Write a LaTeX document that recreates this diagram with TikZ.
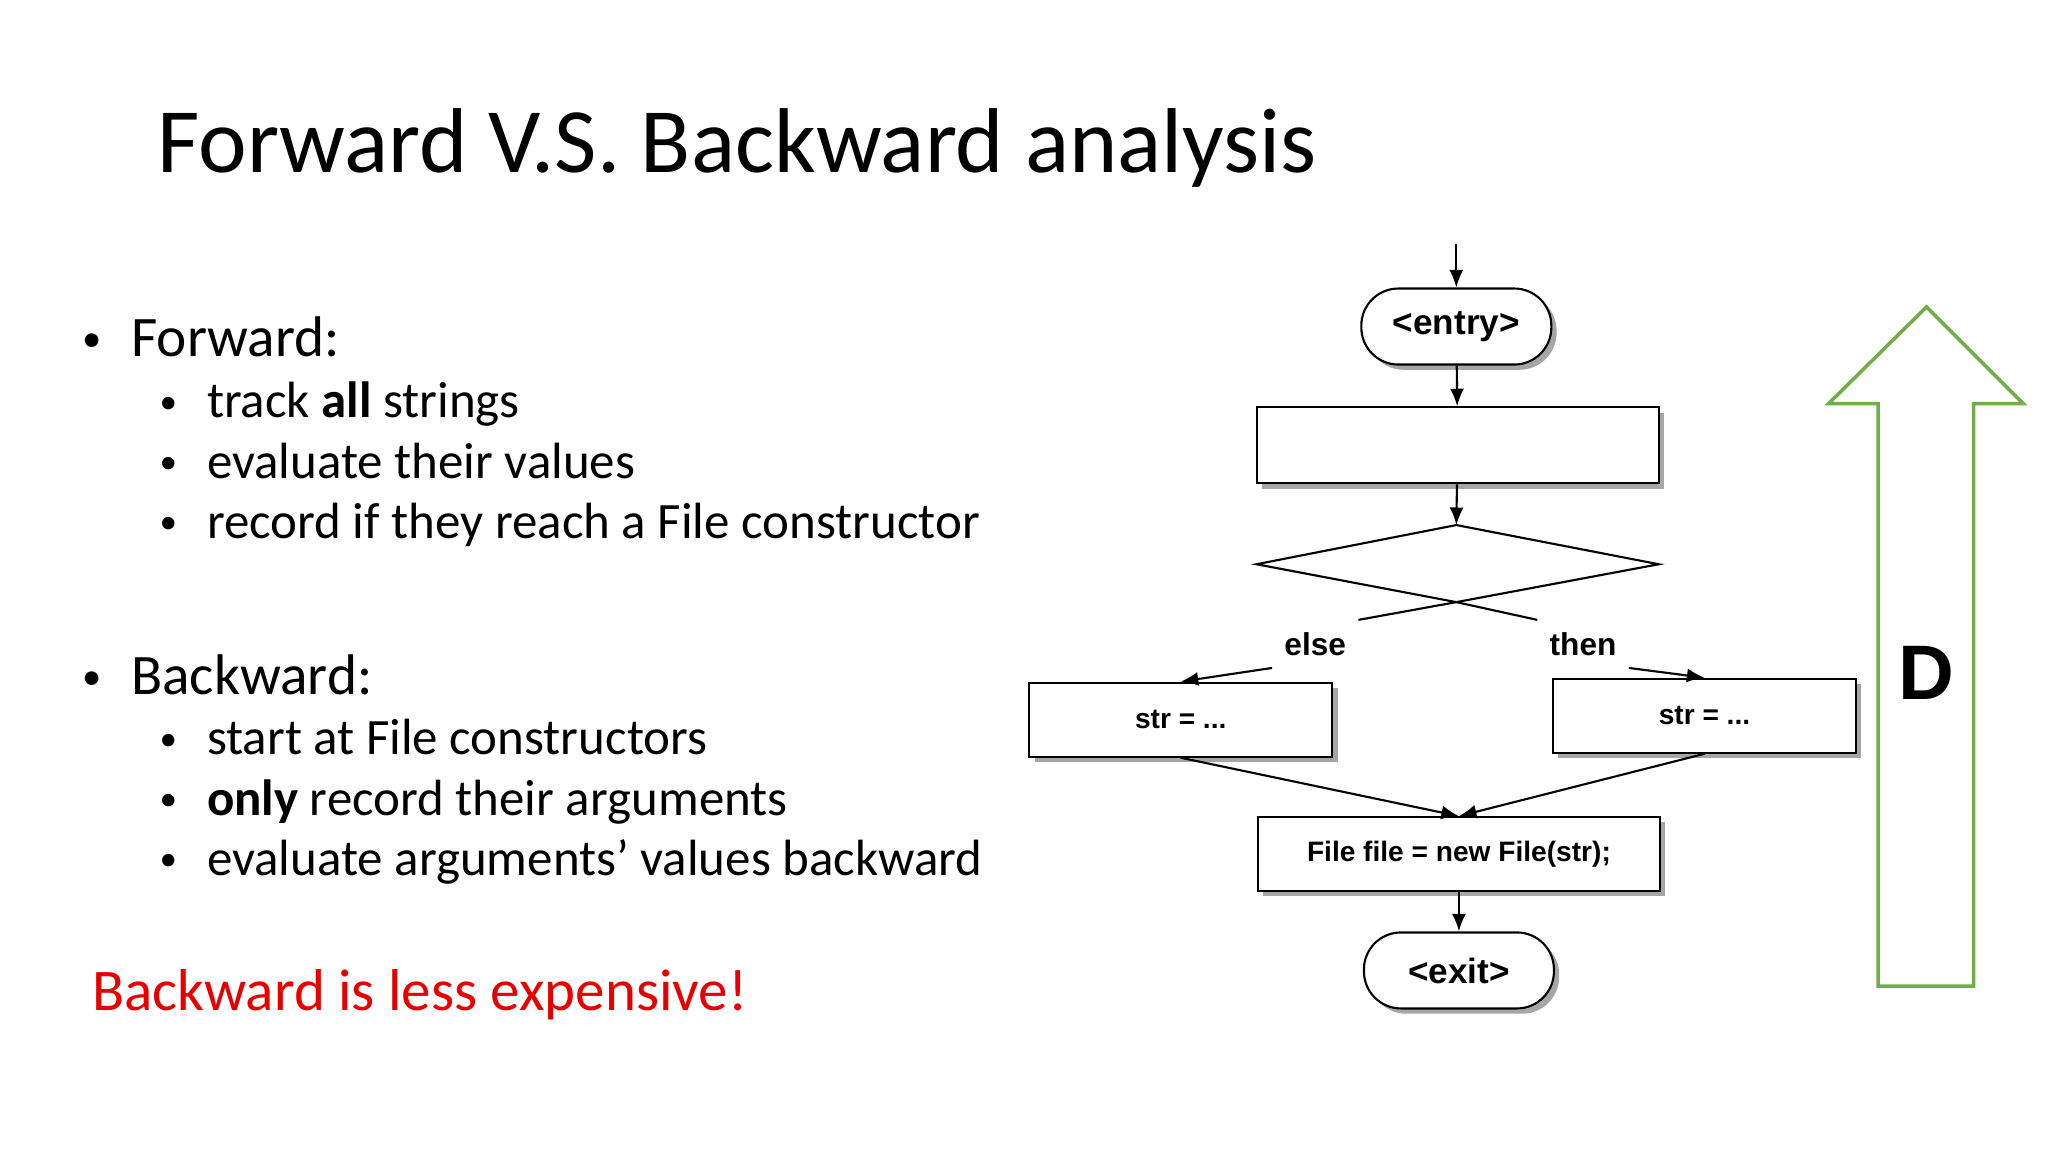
\documentclass[tikz,border=0pt]{standalone}
\usepackage{fontspec}
\setmainfont{Carlito}
\newfontfamily\arialf{Liberation Sans}
\usetikzlibrary{arrows.meta}
\begin{document}
\begin{tikzpicture}[x=0.013061cm,y=-0.013061cm,
  box/.style={draw,line width=0.6pt,fill=white,
    preaction={fill=black!35,transform canvas={xshift=1.5pt,yshift=-1.5pt}}},
  rbox/.style={box,rounded corners=0.37cm,font=\arialf\bfseries\fontsize{10}{12}\selectfont,minimum width=1.9cm,minimum height=0.76cm},
  arr/.style={-{Latex[length=5pt,width=4pt]},line width=0.6pt},
  fc/.style={font=\arialf\bfseries\fontsize{8}{9}\selectfont},
  big/.style={font=\fontsize{16.3}{19}\selectfont,anchor=base west,inner sep=0},
  sub/.style={font=\fontsize{14.5}{17}\selectfont,anchor=base west,inner sep=0}]
\useasboundingbox (0,0) rectangle (1568,882);
\newcommand{\bbig}{\llap{\raisebox{0.2ex}{\fontsize{11}{12}\selectfont\textbullet}\hspace{0.3cm}}}
\newcommand{\bsub}{\llap{\raisebox{0.2ex}{\fontsize{10}{12}\selectfont\textbullet}\hspace{0.3cm}}}
\node[anchor=base west,font=\fontsize{26.2}{31}\selectfont,inner sep=0] (title) at (120,132) {Forward V.S. Backward analysis};
\node[big] (f) at (100,273) {\bbig Forward:};
\node[sub] (f1) at (158,320) {\bsub track \textbf{all} strings};
\node[sub] (f2) at (158,366) {\bsub evaluate their values};
\node[sub] (f3) at (158,412) {\bsub record if they reach a File constructor};
\node[big] (b) at (100,532) {\bbig Backward:};
\node[sub] (b1) at (158,578) {\bsub start at File constructors};
\node[sub] (b2) at (158,624) {\bsub \textbf{only} record their arguments};
\node[sub] (b3) at (158,670) {\bsub evaluate arguments’ values backward};
\node[anchor=base west,inner sep=0,font=\fontsize{16.8}{20}\selectfont,text={rgb,255:red,230;green,0;blue,0}] (r) at (70,774) {Backward is less expensive!};
% flowchart
\coordinate (top) at (1115,187);
\node[rbox] (entry) at (1115,250) {<entry>};
\node[box,minimum width=4.02cm,minimum height=0.76cm] (r1) at (1116,341) {};
\draw[line width=0.6pt,fill=white] (1115,402) coordinate (dt) -- (1270,432) -- (1115,461) coordinate (db) -- (962,432) -- cycle;
\node[box,fc,minimum width=3.03cm,minimum height=0.74cm] (L) at (904,551) {str = ...};
\node[box,fc,minimum width=3.03cm,minimum height=0.74cm] (R) at (1305,548) {str = ...};
\node[box,fc,minimum width=4.02cm,minimum height=0.74cm] (F) at (1117,654) {File file = new File(str);};
\node[rbox] (exit) at (1117,743) {<exit>};
\draw[arr] (top) -- (entry);
\draw[arr] (entry) -- (r1);
\draw[arr] (r1) -- (dt);
\node[font=\arialf\bfseries\fontsize{9}{11}\selectfont] (el) at (1007,493) {else};
\node[font=\arialf\bfseries\fontsize{9}{11}\selectfont] (th) at (1212,493) {then};
\draw[line width=0.6pt] (db) -- (el.north east);
\draw[arr] (el.south west) -- (L.north);
\draw[line width=0.6pt] (db) -- (th.north west);
\draw[arr] (th.south east) -- (R.north);
\draw[arr] (L.south) -- (F.north);
\draw[arr] (R.south) -- (F.north);
\draw[arr] (F) -- (exit);
% big arrow
\draw[line width=1pt,draw={rgb,255:red,112;green,173;blue,71}] (1438,755) -- (1438,309) -- (1400,309) -- (1475,235) -- (1549,309) -- (1511,309) -- (1511,755) -- cycle;
\node[font=\arialf\bfseries\fontsize{22}{26}\selectfont] (D) at (1475,515) {D};
\end{tikzpicture}
\end{document}
